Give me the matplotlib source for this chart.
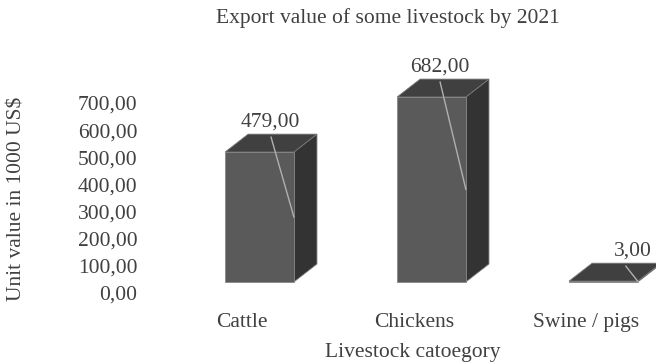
import numpy as np
import matplotlib.pyplot as plt
from matplotlib.patches import Polygon

plt.rcParams['font.family'] = ['Liberation Serif', 'DejaVu Serif']

categories = ["Cattle", "Chickens", "Swine / pigs"]
values = [479.0, 682.0, 3.0]
y_ticks = [0, 100, 200, 300, 400, 500, 600, 700]

text_col = "#404040"
front_col = "#5a5a5a"
top_col = "#404040"
side_col = "#333333"
fs = 15.5

half_w = 0.2      # half width of the front face (category units)
dx, dy = 0.134, 66  # oblique depth offset (x units, value units)

W, H = 656, 363
fig = plt.figure(figsize=(W / 100, H / 100), dpi=100)
ax = fig.add_axes([173.5 / W, 54 / H, 516 / W, 244 / H])
ax.set_xlim(-0.5, 2.5)
ax.set_ylim(-100, 800)

x = np.arange(len(categories))
label_dx = [0.06, 0.05, 0.17]
line_dx = [0.067, 0.05, 0.13]
for i, v in enumerate(values):
    x0, x1 = x[i] - half_w, x[i] + half_w
    front = [(x0, 0), (x1, 0), (x1, v), (x0, v)]
    top = [(x0, v), (x1, v), (x1 + dx, v + dy), (x0 + dx, v + dy)]
    side = [(x1, 0), (x1 + dx, dy), (x1 + dx, v + dy), (x1, v)]
    ax.add_patch(Polygon(side, closed=True, fc=side_col, ec="#777777", lw=0.6, clip_on=False))
    ax.add_patch(Polygon(front, closed=True, fc=front_col, ec="#888888", lw=0.6, clip_on=False))
    ax.add_patch(Polygon(top, closed=True, fc=top_col, ec="#777777", lw=0.6, clip_on=False))

    # value label with a leader line down to the front face
    ax.text(x[i] + label_dx[i], v + 110, f"{v:.2f}".replace(".", ","), ha="center",
            va="center", fontsize=fs, color=text_col)
    ax.plot([x[i] + line_dx[i], x1], [v + 55, v / 2], color="#b0b0b0",
            lw=1, clip_on=False)

# tick labels sit on the back wall, slightly below the front baseline
ax.set_yticks([t - 40 for t in y_ticks])
ax.set_yticklabels([f"{t:.2f}".replace(".", ",") for t in y_ticks], fontsize=fs, color=text_col)
ax.set_xticks(x - 0.1)
ax.set_xticklabels(categories, fontsize=fs, color=text_col)
ax.tick_params(axis="y", length=0, pad=26)
ax.tick_params(axis="x", length=0, pad=3)
for s in ax.spines.values():
    s.set_visible(False)

fig.text(413 / W, 1 - 352 / H, "Livestock catoegory", ha="center", va="center",
         fontsize=fs, color=text_col)
fig.text(17 / W, 1 - 199 / H, "Unit value in 1000 US$", ha="center", va="center",
         rotation=90, fontsize=fs, color=text_col)
fig.text(388 / W, 1 - 18 / H, "Export value of some livestock by 2021",
         ha="center", va="center", fontsize=fs, color=text_col)

fig.savefig("out.png", dpi=100)
